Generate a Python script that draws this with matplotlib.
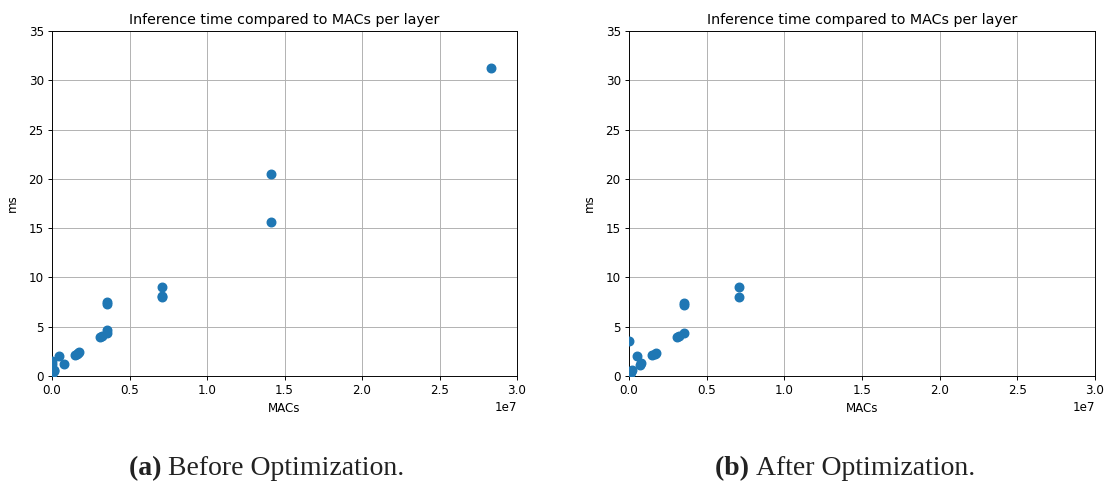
import matplotlib
matplotlib.use('Agg')
import matplotlib.pyplot as plt

# MACs per layer and inference time (ms), before optimization
before_macs = [28.3e6, 14.15e6, 14.15e6, 7.08e6, 7.08e6, 7.08e6,
               3.54e6, 3.54e6, 3.54e6, 3.54e6, 3.2e6, 3.1e6,
               1.77e6, 1.7e6, 1.6e6, 1.5e6, 0.48e6, 0.75e6,
               0.0, 0.0, 0.15e6, 0.1e6, 0.02e6]
before_ms = [31.2, 20.5, 15.6, 9.0, 8.1, 8.0,
             7.5, 7.3, 4.7, 4.4, 4.1, 4.0,
             2.4, 2.3, 2.2, 2.1, 2.05, 1.2,
             1.5, 1.2, 0.5, 0.6, 0.2]

# after optimization
after_macs = [7.08e6, 7.08e6, 3.54e6, 3.54e6, 3.54e6, 3.2e6, 3.1e6,
              1.77e6, 1.65e6, 1.5e6, 0.5e6, 0.78e6, 0.72e6,
              0.0, 0.2e6, 0.1e6, 0.05e6]
after_ms = [9.0, 8.0, 7.4, 7.2, 4.4, 4.1, 4.0,
            2.3, 2.2, 2.1, 2.0, 1.3, 1.1,
            3.6, 0.6, 0.4, 0.2]

captions = [('(a)', 'Before Optimization.'), ('(b)', 'After Optimization.')]
caption_centers = [266.5, 845.5]  # pixels

k = 0.853  # the original was rendered a bit smaller than default
fig = plt.figure(figsize=(11.1, 4.83), dpi=100)
ax1 = fig.add_axes([52 / 1110, 107 / 483, 465 / 1110, 345 / 483])
ax2 = fig.add_axes([629 / 1110, 107 / 483, 466 / 1110, 345 / 483])

for ax, xs, ys in [(ax1, before_macs, before_ms), (ax2, after_macs, after_ms)]:
    ax.scatter(xs, ys, s=38, linewidths=1.0, color='#1f77b4', zorder=3)
    ax.set_xlim(0, 3e7)
    ax.set_ylim(0, 35)
    ax.set_title('Inference time compared to MACs per layer', fontsize=12 * k, pad=6 * k)
    ax.set_xlabel('MACs', fontsize=10 * k, labelpad=4 * k)
    ax.set_ylabel('ms', fontsize=10 * k, labelpad=7)
    ax.tick_params(labelsize=10 * k, length=3.5 * k, width=0.8 * k, pad=3.5 * k)
    ax.xaxis.get_offset_text().set_fontsize(10 * k)
    for sp in ax.spines.values():
        sp.set_linewidth(0.8 * k)
    ax.grid(True, color='#b0b0b0', linewidth=0.8 * k)
    ax.set_axisbelow(True)

# captions: bold tag followed by regular text
renderer = fig.canvas.get_renderer()
for cxp, (tag, text) in zip(caption_centers, captions):
    cx = cxp / 1110
    bold = fig.text(0, 8 / 483, tag + ' ', fontsize=20, family='Liberation Serif',
                    weight='bold', va='baseline', color='#222222')
    reg = fig.text(0, 8 / 483, text, fontsize=20, family='Liberation Serif',
                   va='baseline', color='#222222')
    wb = bold.get_window_extent(renderer).width / fig.bbox.width
    wr = reg.get_window_extent(renderer).width / fig.bbox.width
    x0 = cx - (wb + wr) / 2
    bold.set_x(x0)
    reg.set_x(x0 + wb)

fig.savefig('out.png', dpi=100)
